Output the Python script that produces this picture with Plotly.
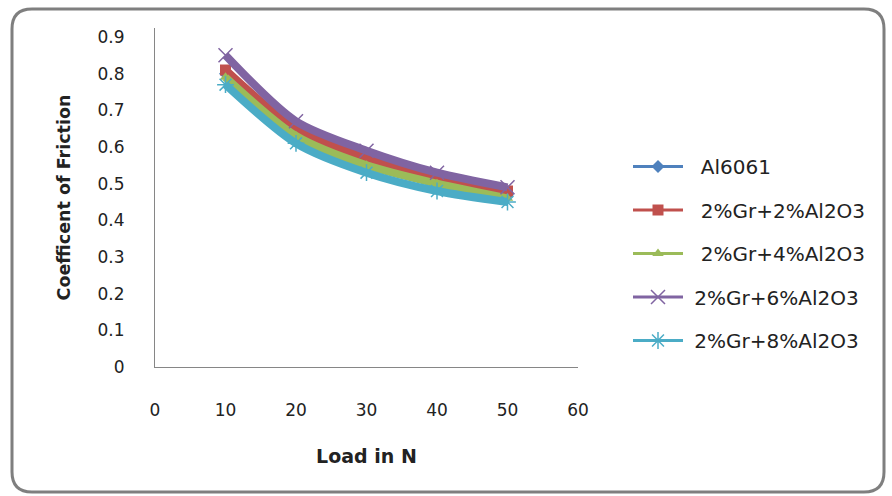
import plotly.graph_objects as go

loads = [10, 20, 30, 40, 50]
series_names = ["Al6061", "2%Gr+2%Al2O3", "2%Gr+4%Al2O3", "2%Gr+6%Al2O3", "2%Gr+8%Al2O3"]
legend_pad = [2, 2, 2, 1, 1]  # leading spaces in the original legend labels
al6061 = [0.80, 0.65, 0.56, 0.51, 0.47]
gr2_al2 = [0.81, 0.65, 0.57, 0.52, 0.48]
gr2_al4 = [0.79, 0.63, 0.55, 0.50, 0.46]
gr2_al6 = [0.85, 0.67, 0.59, 0.53, 0.49]
gr2_al8 = [0.77, 0.61, 0.53, 0.48, 0.45]
y_ticks = [0, 0.1, 0.2, 0.3, 0.4, 0.5, 0.6, 0.7, 0.8, 0.9]
y_tick_text = ["0", "0.1", "0.2", "0.3", "0.4", "0.5", "0.6", "0.7", "0.8", "0.9"]
x_ticks = [0, 10, 20, 30, 40, 50, 60]

values = [al6061, gr2_al2, gr2_al4, gr2_al6, gr2_al8]
colors = ["#4F81BD", "#C0504D", "#9BBB59", "#8064A2", "#4BACC6"]
symbols = ["diamond", "square", "triangle-up", "x-thin-open", "asterisk-open"]
msizes = [10, 11, 10, 14, 14]

W, H = 892, 496
L, R, T, B = 155, 314, 28, 129
pw, ph = W - L - R, H - T - B

fig = go.Figure()
for i, (name, vals) in enumerate(zip(series_names, values)):
    sym = symbols[i]
    mline = dict(width=1.5, color=colors[i]) if "open" in sym else dict(width=0)
    fig.add_trace(go.Scatter(
        x=loads, y=vals, mode="lines+markers", name=name, showlegend=False,
        line=dict(color=colors[i], width=8, shape="spline", smoothing=0.8),
        marker=dict(symbol=sym, size=msizes[i], color=colors[i], line=mline),
    ))
for i, name in enumerate(series_names):
    sym = symbols[i]
    mline = dict(width=1.5, color=colors[i]) if "open" in sym else dict(width=0)
    fig.add_trace(go.Scatter(
        x=[None], y=[None], mode="lines+markers",
        name="\u00a0" * legend_pad[i] + name, legendgroup=name,
        line=dict(color=colors[i], width=3),
        marker=dict(symbol=sym, size=msizes[i], color=colors[i], line=mline),
    ))

def px_x(p):
    return (p - L) / pw

def px_y(p):
    return 1 - (p - T) / ph

x0, x1, y0, y1, r = 12, 884, 9, 492, 20
path = (
    f"M {px_x(x0 + r)},{px_y(y0)} L {px_x(x1 - r)},{px_y(y0)} "
    f"Q {px_x(x1)},{px_y(y0)} {px_x(x1)},{px_y(y0 + r)} "
    f"L {px_x(x1)},{px_y(y1 - r)} "
    f"Q {px_x(x1)},{px_y(y1)} {px_x(x1 - r)},{px_y(y1)} "
    f"L {px_x(x0 + r)},{px_y(y1)} "
    f"Q {px_x(x0)},{px_y(y1)} {px_x(x0)},{px_y(y1 - r)} "
    f"L {px_x(x0)},{px_y(y0 + r)} "
    f"Q {px_x(x0)},{px_y(y0)} {px_x(x0 + r)},{px_y(y0)} Z"
)
fig.add_shape(type="path", path=path, xref="paper", yref="paper",
              line=dict(color="#7F7F7F", width=3), layer="below")

font_family = "DejaVu Sans"
fig.update_layout(
    width=W, height=H,
    margin=dict(l=L, r=R, t=T, b=B),
    paper_bgcolor="white", plot_bgcolor="white",
    font=dict(family=font_family, color="#222222"),
    xaxis=dict(
        range=[0, 60], tickvals=x_ticks, showgrid=False, zeroline=False,
        showline=True, linecolor="#868686", linewidth=1,
        ticks="outside", ticklen=28, tickcolor="rgba(0,0,0,0)",
        tickfont=dict(size=17, family=font_family, color="#222222"),
        title=dict(text="<b>Load in N</b>", font=dict(size=19, family=font_family), standoff=30),
    ),
    yaxis=dict(
        range=[0, 0.9 * ph / (367 - 37)], tickvals=y_ticks, ticktext=y_tick_text,
        showgrid=False, zeroline=False,
        showline=True, linecolor="#868686", linewidth=1,
        ticks="outside", ticklen=26, tickcolor="rgba(0,0,0,0)",
        tickfont=dict(size=17, family=font_family, color="#222222"),
        title=dict(text="<b>Coefficent of Friction</b>", font=dict(size=17.5, family=font_family), standoff=22),
    ),
    legend=dict(
        xref="container", yref="container", x=628 / W, y=1 - 147 / H,
        xanchor="left", yanchor="top", itemwidth=50,
        font=dict(size=20, family=font_family, color="#222222"),
        tracegroupgap=14.5, bgcolor="rgba(0,0,0,0)",
    ),
)

fig.write_html("out.html")
